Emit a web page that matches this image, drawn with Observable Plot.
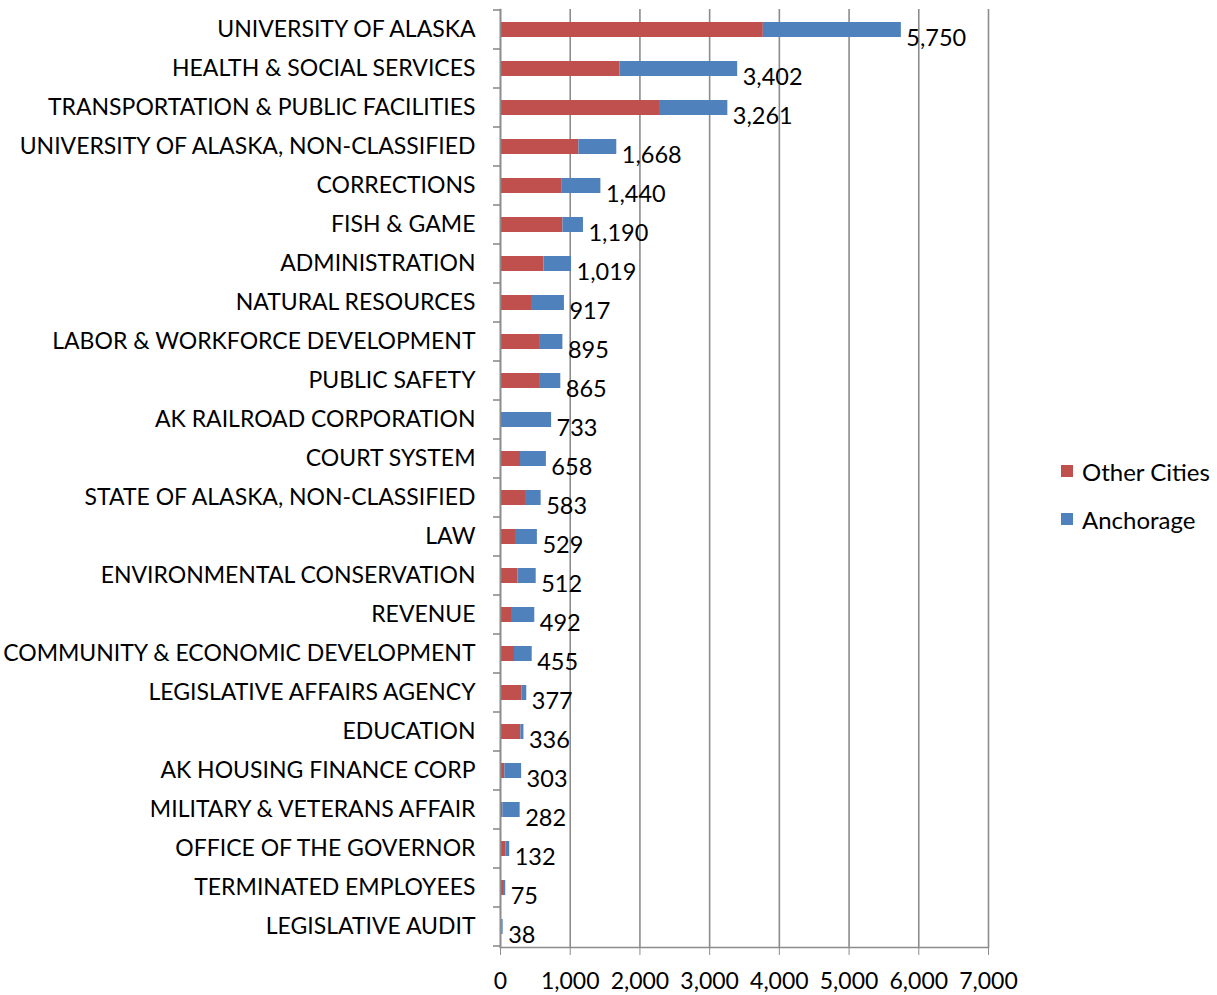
<!DOCTYPE html>
<html>
<head>
<meta charset="utf-8">
<script src="https://cdn.jsdelivr.net/npm/d3@7"></script>
<script src="https://cdn.jsdelivr.net/npm/@observablehq/plot@0.6"></script>
<style>
  html, body { margin: 0; padding: 0; background: #fff; }
  #wrap { position: relative; width: 1217px; height: 995px; font-family: Lato, "Open Sans", sans-serif; }
  #legend { position: absolute; left: 1061px; top: 455px; font-size: 24px; color: #000; }
  #legend .item { display: flex; align-items: center; height: 32px; margin-bottom: 16px; }
  #legend .sw { width: 12px; height: 12px; margin-right: 9px; }
</style>
</head>
<body>
<div id="wrap">
  <div id="chart"></div>
  <div id="legend"></div>
</div>
<script>
const categories = [
  "UNIVERSITY OF ALASKA",
  "HEALTH & SOCIAL SERVICES",
  "TRANSPORTATION & PUBLIC FACILITIES",
  "UNIVERSITY OF ALASKA, NON-CLASSIFIED",
  "CORRECTIONS",
  "FISH & GAME",
  "ADMINISTRATION",
  "NATURAL RESOURCES",
  "LABOR & WORKFORCE DEVELOPMENT",
  "PUBLIC SAFETY",
  "AK RAILROAD CORPORATION",
  "COURT SYSTEM",
  "STATE OF ALASKA, NON-CLASSIFIED",
  "LAW",
  "ENVIRONMENTAL CONSERVATION",
  "REVENUE",
  "COMMUNITY & ECONOMIC DEVELOPMENT",
  "LEGISLATIVE AFFAIRS AGENCY",
  "EDUCATION",
  "AK HOUSING FINANCE CORP",
  "MILITARY & VETERANS AFFAIR",
  "OFFICE OF THE GOVERNOR",
  "TERMINATED EMPLOYEES",
  "LEGISLATIVE AUDIT"
];
const otherCities = [3770, 1714, 2294, 1125, 886, 896, 623, 445, 560, 560, 0, 287, 359, 215, 249, 158, 201, 306, 292, 62, 33, 76, 43, 20];
const anchorage   = [1980, 1688, 967, 543, 554, 294, 396, 472, 335, 305, 733, 371, 224, 314, 263, 334, 254, 71, 44, 241, 249, 56, 32, 18];
const totals      = [5750, 3402, 3261, 1668, 1440, 1190, 1019, 917, 895, 865, 733, 658, 583, 529, 512, 492, 455, 377, 336, 303, 282, 132, 75, 38];
const seriesNames = ["Other Cities", "Anchorage"];
const seriesColors = ["#C0504D", "#4F81BD"];
const xTicks = [0, 1000, 2000, 3000, 4000, 5000, 6000, 7000];

const rows = [];
categories.forEach((c, i) => {
  rows.push({cat: c, series: seriesNames[0], value: otherCities[i]});
  rows.push({cat: c, series: seriesNames[1], value: anchorage[i]});
});
const totalRows = categories.map((c, i) => ({cat: c, total: totals[i]}));

const fmt = d3.format(",");
const FONT = "Lato, 'Open Sans', sans-serif";

const plot = Plot.plot({
  width: 1217,
  height: 995,
  marginLeft: 500,
  marginRight: 229,
  marginTop: 9,
  marginBottom: 48,
  style: {fontFamily: FONT, fontSize: "23px", color: "#000", background: "#fff"},
  x: {domain: [0, 7000], ticks: xTicks, tickFormat: fmt},
  y: {domain: categories, paddingInner: 0.62, paddingOuter: 0.31, align: 0.5},
  color: {domain: seriesNames, range: seriesColors},
  marks: [
    Plot.gridX(xTicks, {stroke: "#8c8c8c", strokeOpacity: 1, strokeWidth: 1.6}),
    Plot.barX(rows, Plot.stackX({x: "value", y: "cat", fill: "series", order: seriesNames})),
    Plot.text(totalRows, {x: "total", y: "cat", text: d => fmt(d.total), textAnchor: "start", dx: 5, dy: 8, fontSize: 23.5, fill: "#000"}),
    Plot.frame({anchor: "bottom", stroke: "#8c8c8c", strokeWidth: 1.6}),
    Plot.frame({anchor: "left", stroke: "#8c8c8c", strokeWidth: 1.6}),
    Plot.axisX({ticks: xTicks, tickFormat: fmt, tickSize: 8, tickPadding: 17, stroke: "#8c8c8c", label: null, fontSize: 23}),
    Plot.axisY({tickSize: 0, tickPadding: 25, label: null, fontSize: 23})
  ]
});
document.getElementById("chart").appendChild(plot);

// Excel-style y-axis tick marks at category boundaries
const ys = plot.scale("y");
const svg = d3.select(plot);
const gap = (ys.step - ys.bandwidth) / 2;
const bounds = categories.map(c => ys.apply(c) - gap);
bounds.push(ys.apply(categories[categories.length - 1]) + ys.bandwidth + gap);
const x0 = plot.scale("x").apply(0);
svg.append("g").selectAll("line").data(bounds).join("line")
  .attr("x1", x0 - 7).attr("x2", x0)
  .attr("y1", d => d).attr("y2", d => d)
  .attr("stroke", "#8c8c8c").attr("stroke-width", 1.6);

const legend = d3.select("#legend");
seriesNames.forEach((s, i) => {
  const it = legend.append("div").attr("class", "item");
  it.append("div").attr("class", "sw").style("background", seriesColors[i]);
  it.append("span").text(s);
});
</script>
</body>
</html>
